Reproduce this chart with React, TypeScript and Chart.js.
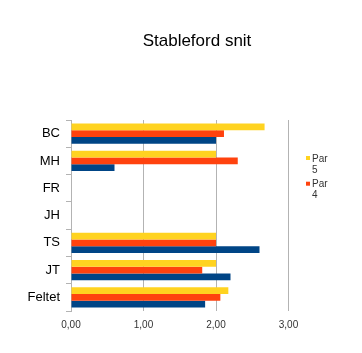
import React, { useEffect, useRef } from "react";
import { Chart, registerables } from "chart.js";

Chart.register(...registerables);

const TITLE = "Stableford snit";
const categories = ["BC", "MH", "FR", "JH", "TS", "JT", "Feltet"];
const seriesLabels = ["Par 5", "Par 4", "Par 3"];
const par5 = [2.67, 2.0, null, null, 2.0, 2.0, 2.17];
const par4 = [2.11, 2.3, null, null, 2.0, 1.81, 2.06];
const par3 = [2.0, 0.6, null, null, 2.6, 2.2, 1.85];
const colors = ["#ffd320", "#ff420e", "#004586"];
const legendShown = 2;
const FONT = '"Liberation Sans", Arial, sans-serif';

const titlePlugin = {
  id: "customTitle",
  afterDraw(chart: any) {
    const ctx = chart.ctx;
    ctx.save();
    ctx.font = `17px ${FONT}`;
    ctx.fillStyle = "#000";
    ctx.textAlign = "center";
    ctx.textBaseline = "alphabetic";
    ctx.fillText(TITLE, 197, 46);
    ctx.restore();
  },
};

const legendPlugin = {
  id: "customLegend",
  afterDraw(chart: any) {
    const ctx = chart.ctx;
    ctx.save();
    ctx.font = `10px ${FONT}`;
    ctx.textAlign = "left";
    ctx.textBaseline = "alphabetic";
    const ds = chart.data.datasets;
    for (let i = 0; i < Math.min(legendShown, ds.length); i++) {
      const y0 = 156 + i * 25.7;
      ctx.fillStyle = ds[i].backgroundColor;
      ctx.fillRect(306, y0, 4, 4);
      ctx.fillStyle = "#333";
      const parts = String(ds[i].label).split(" ");
      parts.forEach((p: string, j: number) => {
        ctx.fillText(p, 312, y0 + 5.5 + j * 11.2);
      });
    }
    ctx.restore();
  },
};

export default function App() {
  const ref = useRef<HTMLCanvasElement | null>(null);
  useEffect(() => {
    document.body.style.margin = "0";
    const canvas = ref.current;
    if (!canvas) return;
    const chart = new Chart(canvas, {
      type: "bar",
      data: {
        labels: categories,
        datasets: [par5, par4, par3].map((d, i) => ({
          label: seriesLabels[i],
          data: d as any,
          backgroundColor: colors[i],
          borderWidth: 0,
          barPercentage: 1,
          categoryPercentage: 0.74,
        })),
      },
      options: {
        indexAxis: "y",
        responsive: false,
        animation: false,
        devicePixelRatio: 1,
        layout: { padding: { top: 120, right: 73.5, bottom: 0, left: 0 } },
        plugins: {
          legend: { display: false },
          title: { display: false },
          tooltip: { enabled: false },
        },
        scales: {
          x: {
            min: 0,
            max: 3,
            afterFit: (s: any) => {
              s.height = 42;
            },
            grid: { color: "#b3b3b3", drawTicks: false },
            border: { display: false },
            ticks: {
              stepSize: 1,
              padding: 8,
              color: "#333",
              font: { family: FONT, size: 10 },
              callback: (v: any) => Number(v).toFixed(2).replace(".", ","),
            },
          },
          y: {
            afterFit: (s: any) => {
              s.width = 71;
            },
            grid: {
              drawOnChartArea: false,
              offset: true,
              tickLength: 5,
              color: "#b3b3b3",
            },
            border: { color: "#b3b3b3" },
            ticks: {
              padding: 6,
              color: "#000",
              font: { family: FONT, size: 13 },
            },
          },
        },
      },
      plugins: [titlePlugin, legendPlugin],
    } as any);
    return () => chart.destroy();
  }, []);
  return <canvas ref={ref} width={362} height={353} style={{ display: "block" }} />;
}
